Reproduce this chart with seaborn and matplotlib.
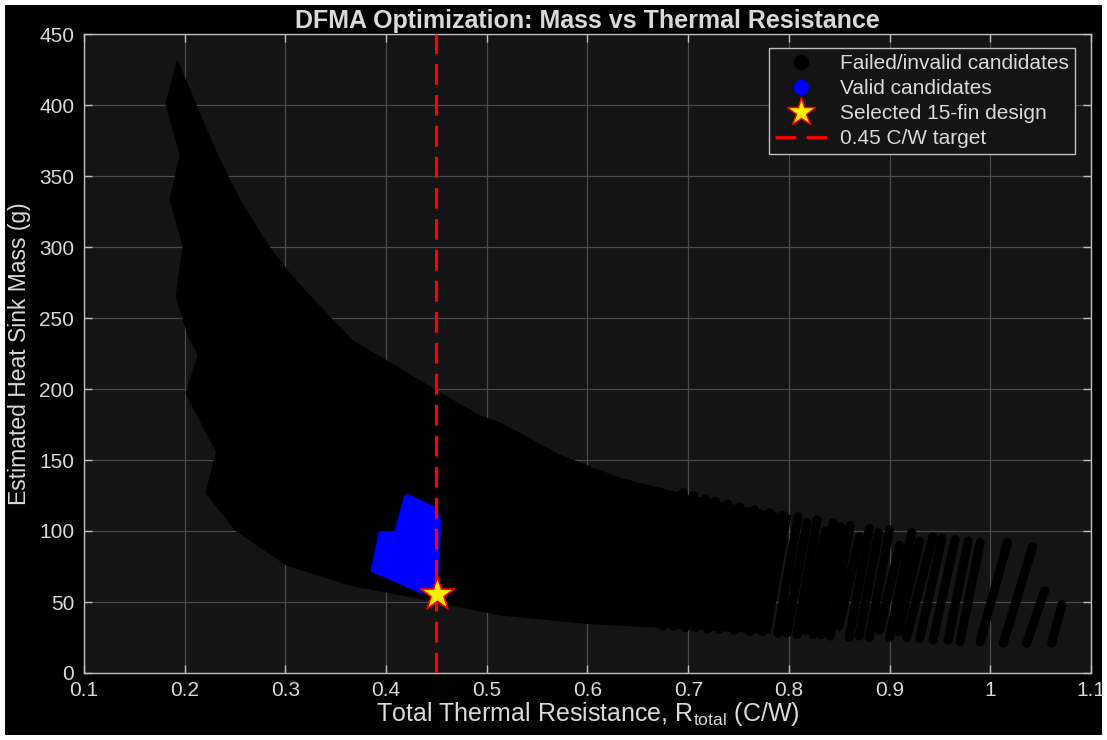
import numpy as np
import pandas as pd
import matplotlib.pyplot as plt
from matplotlib.lines import Line2D
from matplotlib.patches import Rectangle
import seaborn as sns

# ---- data ----
# outline of the dense part of the failed/invalid candidate cloud (R_total [C/W], mass [g])
fail_r = [0.193, 0.202, 0.215, 0.232, 0.253, 0.282, 0.305, 0.324, 0.366, 0.409, 0.451,
          0.493, 0.513, 0.573, 0.632, 0.700, 0.760, 0.800,
          0.780, 0.680, 0.600, 0.513, 0.431, 0.364, 0.302, 0.252, 0.223,
          0.233, 0.203, 0.215, 0.205, 0.193, 0.200, 0.187, 0.197, 0.183]
fail_m = [428, 413, 391, 363, 333, 300, 279, 264, 233, 215, 197,
          180, 175, 152, 136, 124, 115, 110,
          29, 33, 36, 42, 54, 63, 77, 101, 127,
          156, 197, 224, 238, 265, 301, 333, 365, 401]

# streaks of failed candidates in the high-resistance tail (bottom -> top)
streak_r0 = [0.675, 0.686, 0.697, 0.707, 0.719, 0.731, 0.746, 0.761, 0.774, 0.789,
             0.808, 0.824, 0.841, 0.860, 0.880, 0.900, 0.917, 0.930, 0.943, 0.958,
             0.970, 0.990, 1.013, 1.036, 1.061,
             0.798, 0.816, 0.832, 0.850, 0.870, 0.890, 0.909]
streak_m0 = [33, 33, 32, 32, 31, 31, 30, 29, 29, 28, 27, 27, 26, 25, 25, 25, 25, 24,
             23, 23, 22, 22, 21, 21, 21,
             28, 30, 27, 33, 26, 30, 29]
streak_r1 = [0.695, 0.705, 0.717, 0.727, 0.739, 0.751, 0.766, 0.781, 0.794, 0.809,
             0.828, 0.844, 0.861, 0.880, 0.900, 0.922, 0.943, 0.952, 0.965, 0.978,
             0.990, 1.017, 1.042, 1.054, 1.071,
             0.818, 0.836, 0.852, 0.870, 0.889, 0.910, 0.930]
streak_m1 = [127, 125, 123, 121, 119, 117, 115, 113, 111, 110, 108, 106, 104, 102, 101,
             99, 96, 95, 94, 93, 92, 92, 89, 58, 48,
             106, 100, 103, 96, 99, 90, 93]

# outline of the valid candidate region
valid_r = [0.421, 0.449, 0.453, 0.452, 0.449, 0.435, 0.386, 0.394, 0.409, 0.412, 0.419]
valid_m = [125, 116, 108, 80, 56, 57, 72, 99, 99, 106, 124]

# selected design and target
sel_r = [0.4505]
sel_m = [55.5]
target_r = 0.45

TXT = '#d9d9d9'
AX_BG = '#141414'

sns.set_theme(style='dark')
plt.rcParams['font.family'] = ['Liberation Sans', 'DejaVu Sans']
plt.rcParams['mathtext.fontset'] = 'custom'
plt.rcParams['mathtext.rm'] = 'Liberation Sans'

fig = plt.figure(figsize=(11.07, 7.4), dpi=100, facecolor='white')
fig.patches.append(Rectangle((5 / 1107, 5 / 740), 1 - 10 / 1107, 1 - 10 / 740,
                             transform=fig.transFigure, facecolor='black',
                             edgecolor='none', zorder=-10))
ax = fig.add_axes([84 / 1107, 1 - 673 / 740, (1091 - 84) / 1107, (673 - 34) / 740])
ax.set_facecolor(AX_BG)

# failed candidates
ax.fill(fail_r, fail_m, color='black', lw=3, ec='black', zorder=2)
streaks = pd.DataFrame({
    'r': streak_r0 + streak_r1,
    'm': streak_m0 + streak_m1,
    'id': list(range(len(streak_r0))) * 2,
})
sns.lineplot(data=streaks, x='r', y='m', units='id', estimator=None, color='black',
             lw=6.5, solid_capstyle='round', legend=False, ax=ax, zorder=2)

# valid candidates
ax.fill(valid_r, valid_m, color='#0000ff', lw=2, ec='#0000ff', zorder=3)

# target line
ax.axvline(target_r, color='#ff0000', lw=2.3, ls=(0, (6.5, 3.2)), zorder=4)

# selected design
sns.scatterplot(x=sel_r, y=sel_m, marker='*', s=650, color='#ffee00',
                edgecolor='#ff0000', linewidth=1.2, ax=ax, zorder=5, legend=False)

ax.set_xlim(0.1, 1.1)
ax.set_ylim(0, 450)
ax.set_xticks(np.arange(0.1, 1.11, 0.1))
ax.set_xticklabels(['0.1', '0.2', '0.3', '0.4', '0.5', '0.6', '0.7', '0.8', '0.9', '1', '1.1'])
ax.set_yticks(np.arange(0, 451, 50))
ax.grid(True, color='#4a4a4a', lw=0.9)
ax.set_axisbelow(True)
ax.tick_params(direction='in', length=6, width=1, colors='#bfbfbf', labelcolor=TXT,
               labelsize=15, top=True, right=True, bottom=True, left=True)
ax.tick_params(axis='x', pad=6)
ax.tick_params(axis='y', pad=7)
for s in ax.spines.values():
    s.set_color('#bfbfbf')
    s.set_linewidth(1)

ax.set_xlabel(r'Total Thermal Resistance, R$_{\mathrm{total}}$ (C/W)', fontsize=18,
              color=TXT, labelpad=0)
ax.set_ylabel('Estimated Heat Sink Mass (g)', fontsize=16.5, color=TXT, labelpad=6)
ax.set_title('DFMA Optimization: Mass vs Thermal Resistance', fontsize=18,
             fontweight='bold', color=TXT, pad=4)

handles = [
    Line2D([], [], ls='none', marker='o', ms=10, mfc='black', mec='black'),
    Line2D([], [], ls='none', marker='o', ms=10, mfc='#0000ff', mec='#0000ff'),
    Line2D([], [], ls='none', marker='*', ms=21, mfc='#ffee00', mec='#ff0000', mew=1),
    Line2D([], [], color='#ff0000', lw=2.3, ls=(0, (6.5, 3.2))),
]
labels = ['Failed/invalid candidates', 'Valid candidates', 'Selected 15-fin design',
          '0.45 C/W target']
leg = ax.legend(handles, labels, loc='upper right', fontsize=15, frameon=True,
                facecolor=AX_BG, edgecolor='#bfbfbf', framealpha=1, fancybox=False,
                borderpad=0.3, labelspacing=0.28, handlelength=2.5, handletextpad=0.6,
                borderaxespad=0, bbox_to_anchor=(0.984, 0.978))
leg.get_frame().set_linewidth(1)
for t in leg.get_texts():
    t.set_color(TXT)

fig.savefig('out.png', dpi=100, facecolor=fig.get_facecolor())
